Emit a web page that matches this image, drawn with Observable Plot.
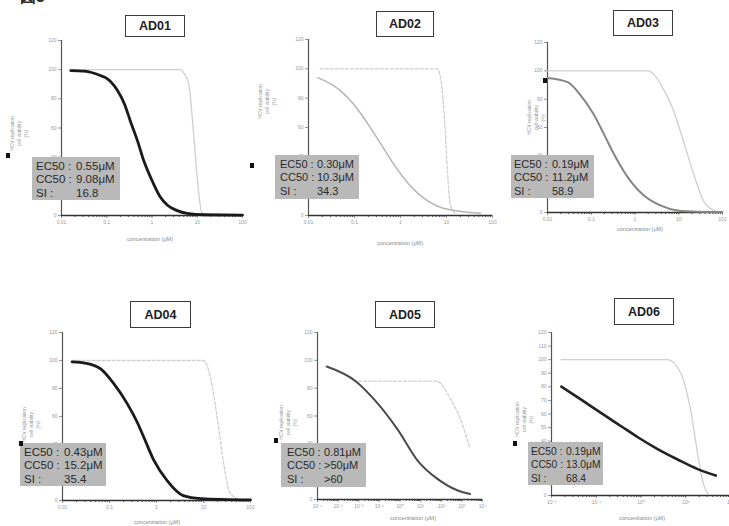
<!DOCTYPE html>
<html><head><meta charset="utf-8">
<script src="https://cdn.jsdelivr.net/npm/d3@7"></script>
<script src="https://cdn.jsdelivr.net/npm/@observablehq/plot@0.6"></script>
<style>
body{margin:0;background:#fff;}
#fig{position:relative;width:729px;height:526px;overflow:hidden;font-family:"Liberation Sans",Arial,sans-serif;background:#fff;}
.title{position:absolute;border:1.5px solid #3a3a3a;background:#fff;font-weight:bold;font-size:12.5px;color:#222;display:flex;align-items:center;justify-content:center;box-sizing:border-box;}
.info{position:absolute;background:#b9b9b9;color:#2a2a2a;box-sizing:border-box;padding-top:3px;line-height:13.3px;}
.info .row{white-space:nowrap;}
.info .k{display:inline-block;}
.ylab{position:absolute;transform-origin:0 0;transform:rotate(-90deg);font-size:5px;color:#999;line-height:7px;white-space:nowrap;text-align:center;}
.sq{position:absolute;width:4px;height:5px;background:#111;}
.xlab{position:absolute;font-size:5.5px;color:#888;transform:translateX(-50%);white-space:nowrap;}
.plot{position:absolute;}
.fig-no{position:absolute;left:20px;top:-13px;font-size:16px;font-weight:bold;color:#333;}
</style></head><body><div id="fig"><div class="fig-no">図3</div></div>
<script>
// ---- data ----
const panelNames = ["AD01", "AD02", "AD03", "AD04", "AD05", "AD06"];
const ec50Labels = ["0.55μM", "0.30μM", "0.19μM", "0.43μM", "0.81μM", "0.19μM"];
const cc50Labels = ["9.08μM", "10.3μM", "11.2μM", "15.2μM", ">50μM", "13.0μM"];
const siLabels = ["16.8", "34.3", "58.9", "35.4", ">60", "68.4"];

const ad01EcConc = [0.016, 0.032, 0.072, 0.1, 0.17, 0.25, 0.33, 0.48, 0.65, 1.07, 1.5, 2.2, 3.5, 6.0, 13.8, 100];
const ad01EcResp = [99.4, 99, 96, 94, 86, 76, 65, 51, 38, 22, 13, 7, 3.5, 1.4, 0.5, 0.3];
const ad01CcConc = [0.016, 1, 4.3, 5.2, 6.5, 8.3, 10, 12.6, 20];
const ad01CcResp = [100, 100, 100, 97, 90, 56, 26, 2, 0];

const ad02EcConc = [0.016, 0.05, 0.095, 0.19, 0.37, 0.71, 1.66, 3.9, 8.5, 55];
const ad02EcResp = [94, 85, 76, 63, 49, 35, 20, 10, 5, 1.5];
const ad02CcConc = [0.018, 1, 6.3, 7.6, 9.3, 10.5, 12, 16];
const ad02CcResp = [100, 100, 100, 92, 60, 30, 8, 1];

const ad03EcConc = [0.01, 0.029, 0.056, 0.11, 0.19, 0.32, 0.68, 1.6, 3.8, 9.3, 27, 100];
const ad03EcResp = [95, 92, 83, 70, 56, 42, 25, 12, 5, 1.4, 0.5, 0.3];
const ad03CcConc = [0.01, 1.95, 2.8, 3.8, 7.6, 12.6, 22, 37, 63, 79];
const ad03CcResp = [100, 100, 97, 91, 72, 51, 27, 8, 1.5, 0.5];

const ad04EcConc = [0.016, 0.032, 0.065, 0.12, 0.24, 0.4, 0.54, 0.87, 1.7, 3.7, 8.7, 100];
const ad04EcResp = [99, 98, 94, 84, 69, 55, 45, 29, 14, 3.5, 1.4, 0.5];
const ad04CcConc = [0.016, 10, 11.7, 14, 20, 27, 37, 63];
const ad04CcResp = [100, 100, 97, 88, 57, 26, 5, 0.5];

const ad05EcConc = [0.00028, 0.0071, 0.063, 0.79, 7.1, 63, 630, 2500];
const ad05EcResp = [95.6, 85, 71, 50, 28, 15, 6.5, 4];
const ad05CcConc = [0.0056, 63, 100, 200, 890, 2400];
const ad05CcResp = [85, 85, 83, 76, 57, 37];

const ad06EcConc = [0.0166, 0.047, 0.13, 0.36, 0.85, 2.3, 6.6, 18, 47];
const ad06EcResp = [80.2, 70.4, 60.6, 51, 42.9, 34.4, 26.5, 19.6, 14.7];
const ad06CcConc = [0.0166, 1, 3.9, 7.8, 12.9, 19.5, 25, 32];
const ad06CcResp = [100, 100, 100, 90, 62.6, 26, 8, 1];

const decadeTicks = [0.01, 0.1, 1, 10, 100];
const decadeTickLabels = ["0.01", "0.1", "1", "10", "100"];
const ad05Ticks = [1e-4, 1e-3, 1e-2, 1e-1, 1, 10, 100, 1000, 10000];
const ad05TickLabels = ["10⁻⁴", "10⁻³", "10⁻²", "10⁻¹", "10⁰", "10¹", "10²", "10³", "10⁴"];
const ad06TickLabels = ["10⁻²", "10⁻¹", "10⁰", "10¹", "10²"];
// y ticks that lie under the grey result boxes in the reference are not drawn
const yTicks20 = [0, 40, 60, 80, 100, 120];
const yTicksAd06 = [0, 40, 50, 60, 70, 80, 90, 100, 110, 120];
const yLabelLines = ["HCV replication", "cell viability", "(%)"];
const xLabelText = "concentration (μM)";

const toRows = (c, r) => c.map((v, i) => ({conc: v, resp: r[i]}));

// ---- layout ----
const panels = [
  {ec: toRows(ad01EcConc, ad01EcResp), cc: toRows(ad01CcConc, ad01CcResp), x0: 61, x1: 242, yTop: 40, yBot: 215,
   xDomain: [0.01, 100], xTicks: decadeTicks, xLabels: decadeTickLabels, yTicks: yTicks20,
   ecColor: "#1a1a1a", ecWidth: 2.8, ccDash: null,
   title: [125, 15, 60, 22], info: [32, 157, 88, 43], font: [11.5, 4, 40], ylab: [9, 151], sq: [6, 153], xlab: [150, 236]},
  {ec: toRows(ad02EcConc, ad02EcResp), cc: toRows(ad02CcConc, ad02CcResp), x0: 308, x1: 492, yTop: 39, yBot: 215,
   xDomain: [0.01, 100], xTicks: decadeTicks, xLabels: decadeTickLabels, yTicks: yTicks20,
   ecColor: "#b5b5b5", ecWidth: 1.5, ccDash: "3,2",
   title: [376, 11, 58, 26], info: [275, 155, 84, 44], font: [11, 5, 37], ylab: [257, 119], sq: [250, 163], xlab: [400, 240]},
  {ec: toRows(ad03EcConc, ad03EcResp), cc: toRows(ad03CcConc, ad03CcResp), x0: 547, x1: 722, yTop: 42, yBot: 212,
   xDomain: [0.01, 100], xTicks: decadeTicks, xLabels: decadeTickLabels, yTicks: yTicks20,
   ecColor: "#858585", ecWidth: 2, ccDash: null,
   title: [613, 10, 60, 26], info: [511, 155, 83, 43], font: [11, 3, 38], ylab: [526, 135], sq: [543, 78], xlab: [640, 226]},
  {ec: toRows(ad04EcConc, ad04EcResp), cc: toRows(ad04CcConc, ad04CcResp), x0: 62, x1: 250, yTop: 332, yBot: 500,
   xDomain: [0.01, 100], xTicks: decadeTicks, xLabels: decadeTickLabels, yTicks: yTicks20,
   ecColor: "#1a1a1a", ecWidth: 2.8, ccDash: "3,2",
   title: [130, 301, 61, 27], info: [20, 443, 86, 43], font: [11.5, 4, 40], ylab: [21, 442], sq: [19, 441], xlab: [157, 519]},
  {ec: toRows(ad05EcConc, ad05EcResp), cc: toRows(ad05CcConc, ad05CcResp), x0: 317, x1: 482, yTop: 332, yBot: 499,
   xDomain: [1e-4, 1e4], xTicks: ad05Ticks, xLabels: ad05TickLabels, yTicks: yTicks20,
   ecColor: "#4a4a4a", ecWidth: 2, ccDash: "3,2",
   title: [375, 301, 60, 27], info: [281, 443, 85, 44], font: [11, 6, 37], ylab: [278, 440], sq: [274, 438], xlab: [413, 515]},
  {ec: toRows(ad06EcConc, ad06EcResp), cc: toRows(ad06CcConc, ad06CcResp), x0: 551, x1: 730, yTop: 332, yBot: 495,
   xDomain: [0.01, 100], xTicks: decadeTicks, xLabels: ad06TickLabels, yTicks: yTicksAd06,
   ecColor: "#222", ecWidth: 2.6, ccDash: null,
   title: [614, 298, 60, 27], info: [528, 442, 75, 43], font: [10.3, 3, 35], ylab: [514, 437], sq: [513, 441], xlab: [642, 515]}
];

const fig = document.getElementById("fig");
const mL = 24, mR = 8, mT = 5, mB = 14;

panels.forEach((p, k) => {
  const w = p.x1 - p.x0 + mL + mR, h = p.yBot - p.yTop + mT + mB;
  const chart = Plot.plot({
    width: w, height: h, marginLeft: mL, marginRight: mR, marginTop: mT, marginBottom: mB,
    style: {background: "transparent", overflow: "visible", fontFamily: "Liberation Sans, Arial, sans-serif"},
    x: {type: "log", domain: p.xDomain},
    y: {domain: [0, 120]},
    marks: [
      Plot.axisX({ticks: 60, tickSize: 2, tickFormat: () => "", color: "#555", label: null}),
      Plot.axisX({ticks: p.xTicks, tickSize: 3, tickPadding: 2, fontSize: 5, color: "#999", label: null,
        tickFormat: d => p.xLabels[p.xTicks.indexOf(d)] ?? ""}),
      Plot.axisY({ticks: p.yTicks, tickSize: 3, tickPadding: 2, fontSize: 5, color: "#999", label: null}),
      Plot.ruleX([p.xDomain[0]], {stroke: "#555", strokeWidth: 1.2}),
      Plot.ruleY([0], {stroke: "#333", strokeWidth: 1.6}),
      Plot.line(p.cc, {x: "conc", y: "resp", curve: "monotone-x", stroke: "#cfcfcf", strokeWidth: 1.3, strokeDasharray: p.ccDash}),
      Plot.line(p.ec, {x: "conc", y: "resp", curve: "monotone-x", stroke: p.ecColor, strokeWidth: p.ecWidth})
    ]
  });
  chart.classList.add("plot");
  chart.style.left = (p.x0 - mL) + "px";
  chart.style.top = (p.yTop - mT) + "px";
  fig.appendChild(chart);

  const t = document.createElement("div");
  t.className = "title";
  t.textContent = panelNames[k];
  Object.assign(t.style, {left: p.title[0] + "px", top: p.title[1] + "px", width: p.title[2] + "px", height: p.title[3] + "px"});
  fig.appendChild(t);

  const info = document.createElement("div");
  info.className = "info";
  Object.assign(info.style, {left: p.info[0] + "px", top: p.info[1] + "px", width: p.info[2] + "px", height: p.info[3] + "px",
    fontSize: p.font[0] + "px", paddingLeft: p.font[1] + "px"});
  [["EC50 :", ec50Labels[k]], ["CC50 :", cc50Labels[k]], ["SI :", siLabels[k]]].forEach(([a, b]) => {
    const r = document.createElement("div");
    r.className = "row";
    const s1 = document.createElement("span"); s1.className = "k"; s1.textContent = a; s1.style.width = p.font[2] + "px";
    const s2 = document.createElement("span"); s2.textContent = b;
    r.appendChild(s1); r.appendChild(s2);
    info.appendChild(r);
  });
  fig.appendChild(info);

  const yl = document.createElement("div");
  yl.className = "ylab";
  yl.innerHTML = yLabelLines.join("<br>");
  Object.assign(yl.style, {left: p.ylab[0] + "px", top: p.ylab[1] + "px"});
  fig.appendChild(yl);

  const sq = document.createElement("div");
  sq.className = "sq";
  Object.assign(sq.style, {left: p.sq[0] + "px", top: p.sq[1] + "px"});
  fig.appendChild(sq);

  const xl = document.createElement("div");
  xl.className = "xlab";
  xl.textContent = xLabelText;
  Object.assign(xl.style, {left: p.xlab[0] + "px", top: p.xlab[1] + "px"});
  fig.appendChild(xl);
});
</script></body></html>
